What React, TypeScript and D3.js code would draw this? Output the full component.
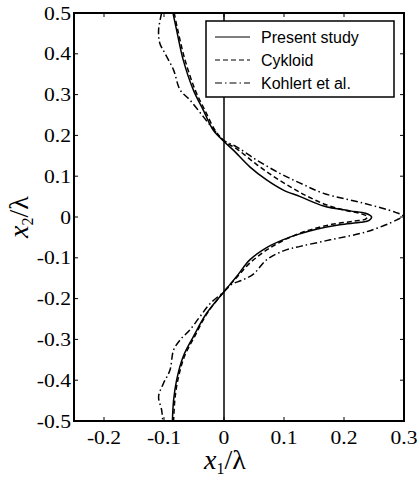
import React from "react";
import * as d3 from "d3";

const xTicks = [-0.2, -0.1, 0, 0.1, 0.2, 0.3];
const yTicks = [0.5, 0.4, 0.3, 0.2, 0.1, 0, -0.1, -0.2, -0.3, -0.4, -0.5];

const presentX = [-0.085, -0.079, -0.068, -0.051, -0.0345, -0.018, 0, 0.0155, 0.043, 0.071, 0.099, 0.127, 0.166, 0.21, 0.236, 0.246, 0.242, 0.228, 0.193, 0.154, 0.125, 0.098, 0.071, 0.043, 0.021, 0, -0.029, -0.051, -0.068, -0.079, -0.084, -0.086];
const presentY = [0.5, 0.458, 0.385, 0.311, 0.262, 0.213, 0.185, 0.164, 0.123, 0.091, 0.066, 0.05, 0.027, 0.015, 0.009, 0.0, -0.008, -0.013, -0.019, -0.03, -0.042, -0.056, -0.075, -0.105, -0.146, -0.183, -0.236, -0.293, -0.342, -0.4, -0.449, -0.5];

const cykloidX = [-0.083, -0.077, -0.065, -0.048, -0.032, -0.015, 0, 0.024, 0.055, 0.085, 0.115, 0.14, 0.17, 0.2, 0.226, 0.239, 0.236, 0.218, 0.18, 0.14, 0.105, 0.072, 0.043, 0.02, 0, -0.028, -0.049, -0.066, -0.077, -0.082, -0.084];
const cykloidY = [0.5, 0.458, 0.385, 0.311, 0.262, 0.213, 0.187, 0.164, 0.128, 0.097, 0.07, 0.05, 0.03, 0.017, 0.009, 0.001, -0.005, -0.01, -0.018, -0.033, -0.053, -0.08, -0.113, -0.15, -0.183, -0.236, -0.293, -0.342, -0.4, -0.449, -0.5];

const kohlertX = [-0.104, -0.109, -0.107, -0.098, -0.084, -0.073, -0.057, -0.0345, -0.012, 0, 0.021, 0.054, 0.093, 0.127, 0.166, 0.232, 0.285, 0.298, 0.288, 0.238, 0.177, 0.127, 0.099, 0.071, 0.049, 0.03, 0.013, 0, -0.023, -0.04, -0.057, -0.073, -0.084, -0.09, -0.101, -0.109, -0.104, -0.102];
const kohlertY = [0.5, 0.458, 0.426, 0.4, 0.36, 0.311, 0.287, 0.246, 0.205, 0.187, 0.172, 0.14, 0.107, 0.083, 0.058, 0.034, 0.012, 0.003, -0.007, -0.036, -0.056, -0.072, -0.083, -0.105, -0.14, -0.155, -0.165, -0.183, -0.212, -0.244, -0.277, -0.301, -0.326, -0.375, -0.408, -0.44, -0.473, -0.5];

const legendLabels = ["Present study", "Cykloid", "Kohlert et al."];
const dashes = ["none", "5,3", "7,3,1.5,3"];

const L = 74, R = 404, T = 13, B = 421;

export default function App() {
  const x = d3.scaleLinear().domain([-0.25, 0.3]).range([L, R]);
  const y = d3.scaleLinear().domain([-0.5, 0.5]).range([B, T]);
  const line = d3
    .line<[number, number]>()
    .x((d) => x(d[0]))
    .y((d) => y(d[1]))
    .curve(d3.curveCatmullRom.alpha(0.5));
  const series = [
    presentX.map((v, i) => [v, presentY[i]] as [number, number]),
    cykloidX.map((v, i) => [v, cykloidY[i]] as [number, number]),
    kohlertX.map((v, i) => [v, kohlertY[i]] as [number, number]),
  ];
  const serif = "'Liberation Serif', 'Times New Roman', serif";
  const sans = "'Liberation Sans', Arial, sans-serif";
  return (
    <svg width={419} height={479} style={{ position: "absolute", left: 0, top: 0, background: "#fff" }}>
      <defs>
        <clipPath id="plot">
          <rect x={L} y={T} width={R - L} height={B - T} />
        </clipPath>
      </defs>
      <line x1={x(0)} x2={x(0)} y1={T} y2={B} stroke="#000" strokeWidth={1.5} />
      <g clipPath="url(#plot)">
        {series.map((s, i) => (
          <path key={i} d={line(s) || ""} fill="none" stroke="#000" strokeWidth={1.5} strokeDasharray={dashes[i]} />
        ))}
      </g>
      {xTicks.map((t) => (
        <g key={"x" + t}>
          <line x1={x(t)} x2={x(t)} y1={B} y2={B - 4} stroke="#000" strokeWidth={1} />
          <line x1={x(t)} x2={x(t)} y1={T} y2={T + 4} stroke="#000" strokeWidth={1} />
          <text
            transform={`translate(${x(t)},${444}) scale(1.2,1)`}
            textAnchor="middle"
            fontFamily={serif}
            fontSize={18}
            fill="#000"
          >
            {t === 0 ? "0" : String(t)}
          </text>
        </g>
      ))}
      {yTicks.map((t) => (
        <g key={"y" + t}>
          <line x1={L} x2={L + 4} y1={y(t)} y2={y(t)} stroke="#000" strokeWidth={1} />
          <line x1={R} x2={R - 4} y1={y(t)} y2={y(t)} stroke="#000" strokeWidth={1} />
          <text
            transform={`translate(${71},${y(t) + 6.5}) scale(1.2,1)`}
            textAnchor="end"
            fontFamily={serif}
            fontSize={18}
            fill="#000"
          >
            {t === 0 ? "0" : String(t)}
          </text>
        </g>
      ))}
      <rect x={L} y={T} width={R - L} height={B - T} fill="none" stroke="#000" strokeWidth={2} />
      <g>
        <rect x={206} y={21} width={188} height={76} fill="#fff" stroke="#000" strokeWidth={1.5} />
        {legendLabels.map((lab, i) => (
          <g key={lab}>
            <line x1={215} x2={250} y1={37 + i * 23} y2={37 + i * 23} stroke="#000" strokeWidth={1.2} strokeDasharray={dashes[i]} />
            <text x={261} y={37 + i * 23 + 6} fontFamily={sans} fontSize={16} fill="#000">
              {lab}
            </text>
          </g>
        ))}
      </g>
      <text x={225} y={469} textAnchor="middle" fontFamily={serif} fontSize={28} fill="#000">
        <tspan fontStyle="italic">x</tspan>
        <tspan fontSize={16} dy={5}>1</tspan>
        <tspan dy={-5}>/λ</tspan>
      </text>
      <text
        transform={`translate(28,${y(0)}) rotate(-90)`}
        textAnchor="middle"
        fontFamily={serif}
        fontSize={28}
        fill="#000"
      >
        <tspan fontStyle="italic">x</tspan>
        <tspan fontSize={16} dy={5}>2</tspan>
        <tspan dy={-5}>/λ</tspan>
      </text>
    </svg>
  );
}
